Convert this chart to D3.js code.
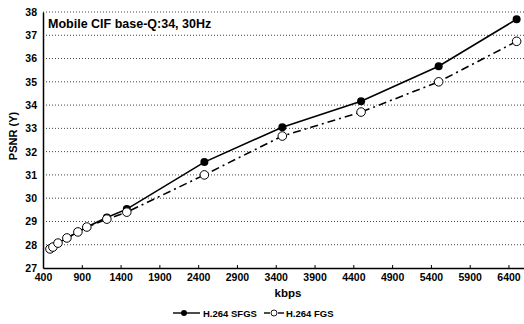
<!DOCTYPE html>
<html>
<head>
<meta charset="utf-8">
<script src="https://cdn.jsdelivr.net/npm/d3@7"></script>
<style>
  body { margin: 0; background: #fff; }
  text { font-family: "Liberation Sans", Arial, sans-serif; font-weight: bold; fill: #000; }
</style>
</head>
<body>
<div id="chart"></div>
<script>
// values
var rates = [490, 528, 593, 708, 850, 965, 1223, 1480, 2480, 3485, 4500, 5500, 6505];
var sfgsPsnr = [27.82, 27.9, 28.07, 28.29, 28.55, 28.76, 29.17, 29.53, 31.55, 33.05, 34.17, 35.67, 37.69];
var fgsPsnr = [27.82, 27.9, 28.07, 28.29, 28.55, 28.76, 29.1, 29.4, 31.0, 32.67, 33.7, 35.0, 36.74];
var xTicks = [400, 900, 1400, 1900, 2400, 2900, 3400, 3900, 4400, 4900, 5400, 5900, 6400];
var yTicks = [27, 28, 29, 30, 31, 32, 33, 34, 35, 36, 37, 38];

var svgWidth = 524;
var svgHeight = 324;

var margin = { top: 12, right: 0, bottom: 56, left: 43 };
var width = svgWidth - margin.left - margin.right;
var height = svgHeight - margin.top - margin.bottom;

var svg = d3.select("#chart")
  .append("svg")
  .attr("width", svgWidth)
  .attr("height", svgHeight);

var chartGroup = svg.append("g")
  .attr("transform", `translate(${margin.left}, ${margin.top})`);

var x = d3.scaleLinear().domain([400, 6600]).range([0, width]);
var y = d3.scaleLinear().domain([27, 38]).range([height, 0]);

// dotted grid
chartGroup.selectAll(".grid")
  .data(yTicks.slice(1))
  .enter()
  .append("line")
  .attr("x1", 0)
  .attr("x2", width)
  .attr("y1", d => y(d))
  .attr("y2", d => y(d))
  .attr("stroke", "#444")
  .attr("stroke-width", 1)
  .attr("stroke-dasharray", "1,2");

// axes
var bottomAxis = d3.axisBottom(x)
  .tickValues(xTicks)
  .tickFormat(d3.format("d"))
  .tickSizeInner(-3)
  .tickSizeOuter(0)
  .tickPadding(6);
var xAxis = chartGroup.append("g")
  .attr("transform", `translate(0, ${height})`)
  .call(bottomAxis);
xAxis.select(".domain").attr("stroke", "#000").attr("stroke-width", 1.5);
xAxis.selectAll("text").attr("font-size", "10.5px");

var leftAxis = d3.axisLeft(y).tickValues(yTicks).tickSize(0).tickPadding(6).tickFormat(d3.format("d"));
var yAxis = chartGroup.append("g").call(leftAxis);
yAxis.select(".domain").attr("stroke", "#000").attr("stroke-width", 1.5);
yAxis.selectAll("text").attr("font-size", "10.5px");

// series
var sfgs = rates.map((r, i) => ({ r: r, v: sfgsPsnr[i] }));
var fgs = rates.map((r, i) => ({ r: r, v: fgsPsnr[i] }));

var line = d3.line().x(d => x(d.r)).y(d => y(d.v));

chartGroup.append("path")
  .datum(fgs)
  .attr("d", line)
  .attr("fill", "none")
  .attr("stroke", "#000")
  .attr("stroke-width", 1.6)
  .attr("stroke-dasharray", "8,4,2,4");

chartGroup.append("path")
  .datum(sfgs)
  .attr("d", line)
  .attr("fill", "none")
  .attr("stroke", "#000")
  .attr("stroke-width", 1.6);

chartGroup.selectAll(".sfgs")
  .data(sfgs)
  .enter()
  .append("circle")
  .attr("cx", d => x(d.r))
  .attr("cy", d => y(d.v))
  .attr("r", 4)
  .attr("fill", "#000");

chartGroup.selectAll(".fgs")
  .data(fgs)
  .enter()
  .append("circle")
  .attr("cx", d => x(d.r))
  .attr("cy", d => y(d.v))
  .attr("r", 4.3)
  .attr("fill", "#fff")
  .attr("stroke", "#000")
  .attr("stroke-width", 1);

// labels
chartGroup.append("text")
  .attr("x", 5)
  .attr("y", 16)
  .attr("font-size", "12.5px")
  .text("Mobile CIF base-Q:34, 30Hz");

svg.append("text")
  .attr("x", 288)
  .attr("y", 297)
  .attr("text-anchor", "middle")
  .attr("font-size", "11.5px")
  .text("kbps");

svg.append("text")
  .attr("transform", "translate(17, 136) rotate(-90)")
  .attr("text-anchor", "middle")
  .attr("font-size", "11px")
  .text("PSNR (Y)");

// legend
var legend = svg.append("g").attr("transform", "translate(173, 313)");
legend.append("line").attr("x1", 0).attr("x2", 27).attr("y1", 0).attr("y2", 0)
  .attr("stroke", "#000").attr("stroke-width", 1.4);
legend.append("circle").attr("cx", 11).attr("cy", 0).attr("r", 3).attr("fill", "#000");
legend.append("text").attr("x", 30).attr("y", 3.5).attr("font-size", "9.5px").text("H.264 SFGS");

legend.append("line").attr("x1", 91).attr("x2", 97).attr("y1", 0).attr("y2", 0)
  .attr("stroke", "#000").attr("stroke-width", 1.4);
legend.append("line").attr("x1", 105).attr("x2", 111).attr("y1", 0).attr("y2", 0)
  .attr("stroke", "#000").attr("stroke-width", 1.4);
legend.append("circle").attr("cx", 101).attr("cy", 0).attr("r", 3)
  .attr("fill", "#fff").attr("stroke", "#000").attr("stroke-width", 0.9);
legend.append("text").attr("x", 113).attr("y", 3.5).attr("font-size", "9.5px").text("H.264 FGS");
</script>
</body>
</html>
